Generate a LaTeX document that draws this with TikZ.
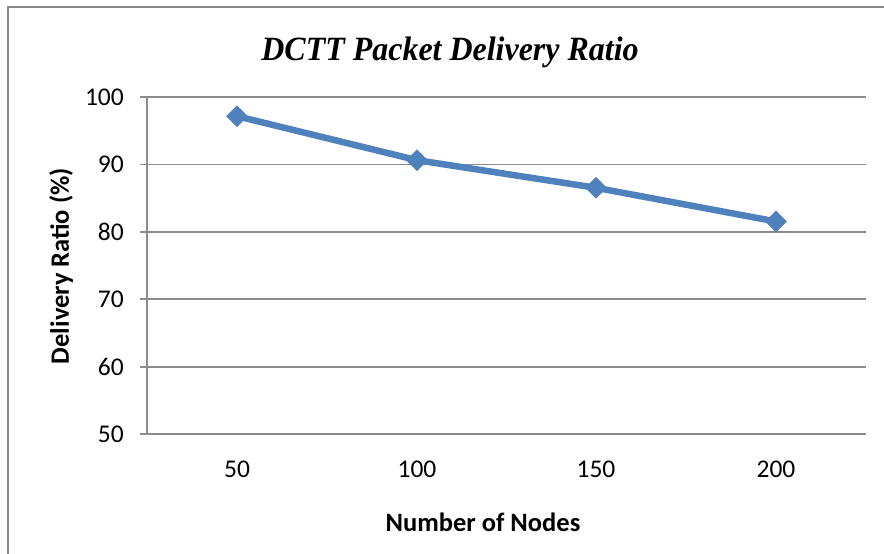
\documentclass[tikz,border=0pt]{standalone}
\usepackage{fontspec}
\setmainfont{Carlito}
\newfontfamily\titlefont{Liberation Serif}
\usetikzlibrary{shapes.geometric}

\definecolor{frameGray}{HTML}{888888}
\definecolor{gridGray}{HTML}{8C8C8C}
\definecolor{seriesBlue}{HTML}{4F81BD}

\tikzset{
  gridline/.style={draw=gridGray, line width=1.8pt},
  ticklabel/.style={font=\fontsize{25.5}{28}\selectfont, inner sep=0pt},
  axistitle/.style={font=\fontsize{26.5}{30}\selectfont\bfseries, inner sep=0pt},
  datapoint/.style={diamond, fill=seriesBlue, inner sep=0pt, minimum width=22pt, minimum height=22pt},
  series/.style={draw=seriesBlue, line width=6.5pt, line join=round}
}

\begin{document}
\begin{tikzpicture}[x=1pt, y=-1pt]
  \useasboundingbox (0,0) rectangle (884,554);
  \fill[white] (0,0) rectangle (884,554);

  % chart frame, running past the right and bottom edges
  \begin{scope}
    \clip (0,0) rectangle (884,554);
    \draw[frameGray, line width=2pt] (8,6.5) rectangle (900,570);
  \end{scope}

  % title
  \node[font=\titlefont\fontsize{34}{37}\selectfont\bfseries\itshape, xscale=0.94, inner sep=0pt] (title) at (450,52) {DCTT Packet Delivery Ratio};

  % horizontal gridlines with their labels (y = 434 - 6.74*(v-50))
  \foreach \v/\yy in {50/434,60/366.6,70/299.2,80/231.8,90/164.4,100/97} {
    \draw[gridline] (140,\yy) -- (866,\yy);
    \node[ticklabel, anchor=east] (ylab\v) at (124,\yy) {\v};
  }
  % vertical axis
  \draw[gridline] (147,97) -- (147,434);

  % category labels
  \foreach \c/\xx in {50/237,100/417,150/596,200/776} {
    \node[ticklabel] (xlab\c) at (\xx,469) {\c};
  }

  % axis titles
  \node[axistitle] (xtitle) at (483,522) {Number of Nodes};
  \node[axistitle, rotate=90] (ytitle) at (61,266) {Delivery Ratio (\%)};

  % data series
  \node[datapoint] (p1) at (237,116.2) {};
  \node[datapoint] (p2) at (417,160.2) {};
  \node[datapoint] (p3) at (596,187.8) {};
  \node[datapoint] (p4) at (776,221.5) {};
  \draw[series] (p1.center) -- (p2.center) -- (p3.center) -- (p4.center);
\end{tikzpicture}
\end{document}
